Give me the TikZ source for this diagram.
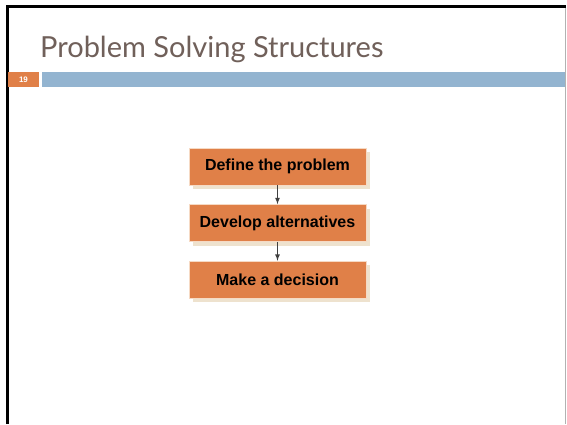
\documentclass[tikz,border=0pt]{standalone}
\usepackage{fontspec}
\setmainfont{Liberation Sans}
\newfontfamily\titlefont{Lato}
\usetikzlibrary{matrix,arrows,shadows}
\definecolor{boxfill}{RGB}{224,128,72}
\definecolor{boxline}{RGB}{246,218,196}
\definecolor{boxshade}{RGB}{238,226,206}
\definecolor{titlegray}{RGB}{112,96,90}
\definecolor{barblue}{RGB}{147,180,208}
\definecolor{arrowgray}{RGB}{64,64,64}
\tikzset{stepbox/.style={draw=boxline, fill=boxfill, line width=0.6pt,
		minimum width=177pt, minimum height=37pt, inner sep=0pt,
		font=\fontsize{16}{19}\selectfont\bfseries,
		drop shadow={shadow xshift=4pt, shadow yshift=-4pt, fill=boxshade, opacity=1}}}

\begin{document}
\begin{tikzpicture}[x=1pt,y=-1pt]
	\useasboundingbox (0,0) rectangle (567,424);
	\fill[white] (0,0) rectangle (567,424);
	% slide frame
	\draw[gray!60,line width=1pt] (565.5,6) -- (565.5,424);
	\draw[line width=3pt] (7,424) -- (7,6.5) -- (566,6.5);
	% title and bar
	\node[anchor=base west, inner sep=0pt, text=titlegray, font=\titlefont\fontsize{29}{34}\selectfont] (title) at (40,57) {Problem Solving Structures};
	\fill[boxfill] (8,72) rectangle (39,87);
	\node[text=white, font=\fontsize{8}{9}\selectfont\bfseries] (num) at (23.5,79.5) {19};
	\fill[barblue] (42,72) rectangle (565,87);
	% steps
	\matrix(m)[matrix of nodes, row sep=19pt, nodes={stepbox}] at (277.5,223)
	{ Define the problem \\
	  Develop alternatives \\
	  Make a decision \\};
	\path[->,>=latex,arrowgray,line width=1.2pt]
	(m-1-1) edge (m-2-1)
	(m-2-1) edge (m-3-1);
\end{tikzpicture}
\end{document}
